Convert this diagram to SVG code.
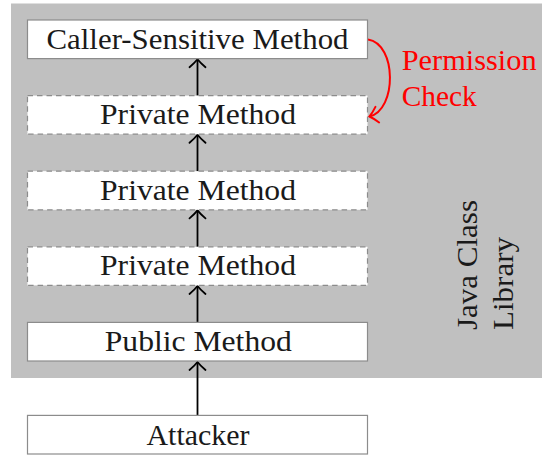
<svg xmlns="http://www.w3.org/2000/svg" width="542" height="455" viewBox="0 0 542 455">
<style>
.lbl{fill:#1a1a1a;text-anchor:middle}
.red{fill:#ff0000}
.side{fill:#1a1a1a}
.box{fill:#ffffff;stroke:#8c8c8c;stroke-width:1.2}
.dash{stroke-dasharray:5.5 4}
.arr{fill:none;stroke:#000;stroke-width:1.8}
.chk{fill:none;stroke:#ff0000;stroke-width:2}
</style>
<defs>
<marker id="ah" markerUnits="userSpaceOnUse" viewBox="-10 -10 12 20" markerWidth="12" markerHeight="20" refX="0" refY="0" orient="auto" overflow="visible">
<path d="M-8,-8 C-5,-4.5 -1.8,-1.4 0,0 C-1.8,1.4 -5,4.5 -8,8" fill="none" stroke="#000" stroke-width="1.8" stroke-linecap="round"/>
</marker>
<marker id="ahr" markerUnits="userSpaceOnUse" viewBox="-10 -10 12 20" markerWidth="12" markerHeight="20" refX="0" refY="0" orient="auto" overflow="visible">
<path d="M-8,-8 C-5,-4.5 -1.8,-1.4 0,0 C-1.8,1.4 -5,4.5 -8,8" fill="none" stroke="#ff0000" stroke-width="2" stroke-linecap="round"/>
</marker>
</defs>
<rect id="library" x="11" y="3.5" width="531" height="374.5" fill="#c0c0c0"/>
<g id="connectors">
<line class="arr" x1="197.5" y1="95.6" x2="197.5" y2="59.2" marker-end="url(#ah)"/>
<line class="arr" x1="197.5" y1="171.2" x2="197.5" y2="134.8" marker-end="url(#ah)"/>
<line class="arr" x1="197.5" y1="246.8" x2="197.5" y2="210.4" marker-end="url(#ah)"/>
<line class="arr" x1="197.5" y1="322.4" x2="197.5" y2="286" marker-end="url(#ah)"/>
<line class="arr" x1="197.5" y1="415.4" x2="197.5" y2="362" marker-end="url(#ah)"/>
<path class="chk" d="M368,39.5 C397,44 397,110 369.5,116.5" marker-end="url(#ahr)"/>
</g>
<g font-family="Liberation Serif" font-size="29.5">
<g id="caller">
<rect class="box" x="27.5" y="20" width="340" height="38.6"/>
<text class="lbl" x="197.5" y="48.5" textLength="302" lengthAdjust="spacingAndGlyphs">Caller-Sensitive Method</text>
</g>
<g id="private1">
<rect class="box dash" x="27.5" y="95.6" width="340" height="38.6"/>
<text class="lbl" x="198" y="124" textLength="196" lengthAdjust="spacingAndGlyphs">Private Method</text>
</g>
<g id="private2">
<rect class="box dash" x="27.5" y="171.2" width="340" height="38.6"/>
<text class="lbl" x="198" y="199.6" textLength="196" lengthAdjust="spacingAndGlyphs">Private Method</text>
</g>
<g id="private3">
<rect class="box dash" x="27.5" y="246.8" width="340" height="38.6"/>
<text class="lbl" x="198" y="275.2" textLength="196" lengthAdjust="spacingAndGlyphs">Private Method</text>
</g>
<g id="public">
<rect class="box" x="27.5" y="322.4" width="340" height="38.6"/>
<text class="lbl" x="198.3" y="350.6" textLength="187" lengthAdjust="spacingAndGlyphs">Public Method</text>
</g>
<g id="attacker">
<rect class="box" x="27.5" y="415.4" width="340" height="38.6"/>
<text class="lbl" x="198" y="445" textLength="103" lengthAdjust="spacingAndGlyphs">Attacker</text>
</g>
<g id="permission-label">
<text class="red" x="401.7" y="69.5" textLength="135" lengthAdjust="spacingAndGlyphs">Permission</text>
<text class="red" x="401.7" y="105.5" textLength="75" lengthAdjust="spacingAndGlyphs">Check</text>
</g>
<g id="library-label">
<text class="side" transform="translate(476.5,330) rotate(-90)" textLength="130" lengthAdjust="spacingAndGlyphs">Java Class</text>
<text class="side" transform="translate(513,330) rotate(-90)" textLength="93" lengthAdjust="spacingAndGlyphs">Library</text>
</g>
</g>
</svg>
